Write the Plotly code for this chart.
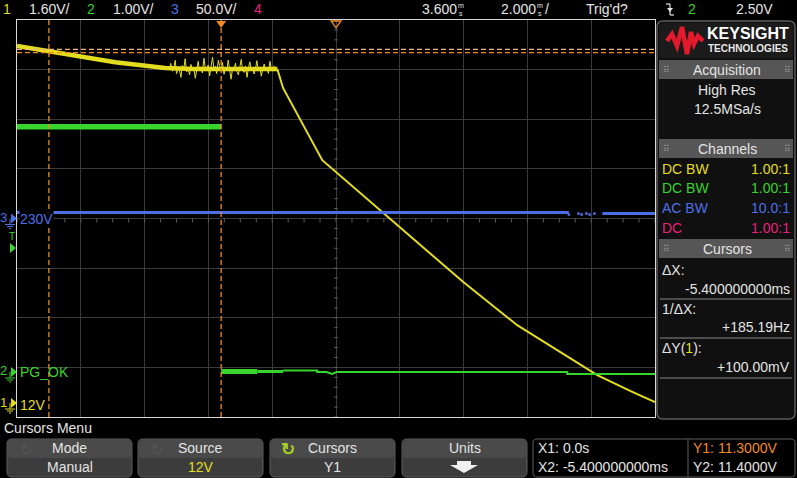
import plotly.graph_objects as go

W, H = 797, 478
FONT = "Liberation Sans, Arial, sans-serif"

# ---------------- data ----------------
T_RANGE = [-6.4, 13.6]          # ms, 2 ms/div, delay 3.6 ms
CH1_RANGE = [-0.45, 12.35]      # 1.60 V/div
CH2_RANGE = [-0.907, 7.093]     # 1.00 V/div
CH3_RANGE = [-200, 200]         # 50.0 V/div

# Channel 1 (12V) slow decline before the drop
CH1_T = [-6.4, -5.42, -4.36, -3.32, -1.76, -0.82, 1.76]
CH1_V = [11.51, 11.35, 11.19, 10.99, 10.80, 10.77, 10.77]
# Channel 1 noisy plateau
NOISE_T = [-1.62, -1.58, -1.53, -1.49, -1.44, -1.40, -1.35, -1.31, -1.26, -1.22, -1.17, -1.13, -1.08, -1.04, -0.99,
           -0.95, -0.90, -0.86, -0.81, -0.77, -0.72, -0.68, -0.63, -0.59, -0.54, -0.50, -0.45, -0.41, -0.36, -0.32,
           -0.27, -0.23, -0.18, -0.14, -0.09, -0.05, 0.00, 0.04, 0.09, 0.13, 0.18, 0.22, 0.27, 0.31, 0.36,
           0.40, 0.45, 0.49, 0.54, 0.58, 0.63, 0.67, 0.72, 0.76, 0.81, 0.85, 0.90, 0.94, 0.99, 1.03,
           1.08, 1.12, 1.17, 1.21, 1.26, 1.30, 1.35, 1.39, 1.44, 1.48, 1.53, 1.57, 1.62, 1.66, 1.71]
NOISE_V = [10.78, 10.95, 10.70, 10.76, 11.05, 10.62, 10.80, 10.74, 10.50, 10.88, 10.76, 11.10, 10.68, 10.79, 10.58,
           10.92, 10.75, 10.81, 10.47, 10.77, 11.02, 10.72, 10.84, 10.64, 11.12, 10.80, 10.70, 10.90, 10.55, 10.83,
           11.15, 10.78, 10.86, 10.62, 11.05, 10.88, 10.74, 10.98, 10.60, 10.80, 10.72, 11.06, 10.66, 10.44, 10.82,
           10.76, 10.96, 10.70, 10.58, 10.80, 11.08, 10.74, 10.66, 10.87, 10.50, 10.78, 11.00, 10.73, 10.82, 10.61,
           10.79, 11.04, 10.70, 10.84, 10.54, 10.77, 10.93, 10.72, 10.80, 10.63, 11.02, 10.76, 10.70, 10.86, 10.78]
# Channel 1 falling part
FALL_T = [1.76, 1.94, 3.17, 5.61, 7.59, 9.28, 10.63, 11.79, 12.82, 13.6]
FALL_V = [10.77, 10.16, 7.83, 5.67, 3.90, 2.51, 1.64, 0.90, 0.39, 0.03]

# Channel 2 (PG_OK)
CH2_PRE_T = [-6.4, 0.0]
CH2_PRE_V = [4.94, 4.94]
CH2_BAND_T = [0.0, 1.13]
CH2_BAND_V = [0.01, 0.01]
CH2_MID_T = [1.13, 1.94]
CH2_MID_V = [0.01, 0.01]
CH2_T = [1.94, 3.01, 3.01, 3.30, 3.48, 3.62, 10.85, 10.85, 13.6]
CH2_V = [0.03, 0.03, 0.0, 0.0, -0.04, 0.0, 0.0, -0.04, -0.04]

# Channel 3 (230V, AC coupled)
CH3_T = [-6.4, 10.9, None, 11.95, 13.6]
CH3_V = [6, 6, None, 5, 5]
CH3_DOT_T = [10.9, 11.2, 11.3, 11.45, 11.55, 11.7]
CH3_DOT_V = [4, 5, 4, 5, 4, 5]

# cursors
X_CURSORS = [0.0, -5.4]
Y1, Y2 = 11.3, 11.4
TRIG_LEVEL = 2.5

YELLOW = "#e3dc1f"
GREEN = "#36d42c"
BLUE = "#4d6fe6"
PINK = "#e8207a"
ORANGE = "#f08a22"
PEACH = "#eeb27a"
TXT = "#e4e4e4"

PX0, PX1, PY0, PY1 = 17, 655, 20, 417   # plot area in pixels


def P(x, y):
    return f"{x / W:.5f},{1 - y / H:.5f}"


def rrect(x0, y0, x1, y1, r):
    return ("M" + P(x0 + r, y0) + " L" + P(x1 - r, y0) + " Q" + P(x1, y0) + " " + P(x1, y0 + r) +
            " L" + P(x1, y1 - r) + " Q" + P(x1, y1) + " " + P(x1 - r, y1) +
            " L" + P(x0 + r, y1) + " Q" + P(x0, y1) + " " + P(x0, y1 - r) +
            " L" + P(x0, y0 + r) + " Q" + P(x0, y0) + " " + P(x0 + r, y0) + " Z")


def poly(pts, close=True):
    s = "M" + " L".join(P(x, y) for x, y in pts)
    return s + (" Z" if close else "")


def ypix(v, rng):
    return PY1 - (v - rng[0]) / (rng[1] - rng[0]) * (PY1 - PY0)


def xpix(t):
    return PX0 + (t - T_RANGE[0]) / (T_RANGE[1] - T_RANGE[0]) * (PX1 - PX0)


shapes = []
ann = []


def txt(s, x, y, color=TXT, size=14, anchor="left", bold=False, bg=None):
    d = dict(text=s, x=x / W, y=1 - y / H, xref="paper", yref="paper", xanchor=anchor,
             yanchor="middle", showarrow=False, borderpad=0,
             font=dict(family=FONT, size=size, color=color, weight=700 if bold else 400))
    if bg:
        d["bgcolor"] = bg
    ann.append(d)


def shp_path(path, fill=None, line=None, width=1, layer="above"):
    shapes.append(dict(type="path", path=path, xref="paper", yref="paper", layer=layer,
                       fillcolor=fill if fill else "rgba(0,0,0,0)",
                       line=dict(color=line if line else "rgba(0,0,0,0)", width=width if line else 0)))


def shp_line(x0, y0, x1, y1, color, width=1, dash=None):
    ln = dict(color=color, width=width)
    if dash:
        ln["dash"] = dash
    shapes.append(dict(type="line", xref="paper", yref="paper", x0=x0 / W, x1=x1 / W,
                       y0=1 - y0 / H, y1=1 - y1 / H, line=ln, layer="above"))


fig = go.Figure()

# center-line minor ticks (div units on primary y)
tx, ty = [], []
t = T_RANGE[0]
while t <= T_RANGE[1] + 1e-9:
    tx += [t, t, None]
    ty += [-0.0, -0.08, None]
    t += 0.5
k = -4.0
while k <= 4.0 + 1e-9:
    tx += [3.6 - 0.06, 3.6 + 0.06, None]
    ty += [k, k, None]
    k += 0.2
fig.add_trace(go.Scatter(x=tx, y=ty, mode="lines", line=dict(color="#5a5a5a", width=1),
                         yaxis="y", hoverinfo="skip"))

# channel 3
fig.add_trace(go.Scatter(x=CH3_T, y=CH3_V, mode="lines", line=dict(color=BLUE, width=3),
                         yaxis="y4", hoverinfo="skip"))
fig.add_trace(go.Scatter(x=CH3_DOT_T, y=CH3_DOT_V, mode="markers",
                         marker=dict(color=BLUE, size=2.5, symbol="square"),
                         yaxis="y4", hoverinfo="skip"))
# channel 2
fig.add_trace(go.Scatter(x=CH2_PRE_T, y=CH2_PRE_V, mode="lines", line=dict(color=GREEN, width=5.5),
                         yaxis="y3", hoverinfo="skip"))
fig.add_trace(go.Scatter(x=CH2_BAND_T, y=CH2_BAND_V, mode="lines", line=dict(color=GREEN, width=5),
                         yaxis="y3", hoverinfo="skip"))
fig.add_trace(go.Scatter(x=CH2_MID_T, y=CH2_MID_V, mode="lines", line=dict(color=GREEN, width=3),
                         yaxis="y3", hoverinfo="skip"))
fig.add_trace(go.Scatter(x=CH2_T, y=CH2_V, mode="lines", line=dict(color=GREEN, width=2),
                         yaxis="y3", hoverinfo="skip"))
# channel 1
fig.add_trace(go.Scatter(x=CH1_T, y=CH1_V, mode="lines", line=dict(color=YELLOW, width=4.5),
                         yaxis="y2", hoverinfo="skip"))
fig.add_trace(go.Scatter(x=NOISE_T, y=NOISE_V, mode="lines", line=dict(color=YELLOW, width=1),
                         yaxis="y2", hoverinfo="skip"))
fig.add_trace(go.Scatter(x=FALL_T, y=FALL_V, mode="lines", line=dict(color=YELLOW, width=2),
                         yaxis="y2", hoverinfo="skip"))

# cursors
for xc in X_CURSORS:
    shapes.append(dict(type="line", xref="x", yref="paper", x0=xc, x1=xc,
                       y0=1 - PY1 / H, y1=1 - PY0 / H, layer="above",
                       line=dict(color=ORANGE, width=1.3, dash="5px,3px")))
for yc, col in [(Y2, PEACH), (Y1, ORANGE)]:
    shapes.append(dict(type="line", xref="paper", yref="y2", x0=PX0 / W, x1=PX1 / W,
                       y0=yc, y1=yc, layer="above",
                       line=dict(color=col, width=1.3, dash="5px,3px")))

# trigger / delay markers at top
xt = xpix(0.0)
shp_path(poly([(xt - 5, 21), (xt + 5, 21), (xt, 28)]), fill=ORANGE)
xd = xpix(3.6)
shp_path(poly([(xd - 5, 21), (xd + 5, 21), (xd, 28)]), line=ORANGE, width=1.3)

# left ground markers
for num, col, g in [("3", BLUE, ypix(0, CH3_RANGE)), ("2", GREEN, ypix(0, CH2_RANGE)),
                    ("1", YELLOW, ypix(0, CH1_RANGE))]:
    txt(num, 4, g - 1, color=col, size=13, anchor="center")
    shp_path(poly([(11, g - 5), (17, g), (11, g + 5)]), fill=col)
    shp_line(10, g, 10, g + 6, col, 1)
    shp_line(5, g + 6, 15, g + 6, col, 1)
    shp_line(7, g + 8, 13, g + 8, col, 1)
    shp_line(9, g + 10, 11, g + 10, col, 1)
gt = ypix(TRIG_LEVEL, CH2_RANGE)
txt("T", 12, gt - 11, color=GREEN, size=10, anchor="center")
shp_path(poly([(10, gt - 5), (16, gt), (10, gt + 5)]), fill=GREEN)

# channel labels
txt("230V", 19, ypix(0, CH3_RANGE), color=BLUE, size=14, bg="#000000")
txt("PG_OK", 19, ypix(0, CH2_RANGE), color=GREEN, size=14)
txt("12V", 19, ypix(0, CH1_RANGE) + 2, color=YELLOW, size=14)

# ---------------- top bar ----------------
txt("1", 7, 9, color=YELLOW, anchor="center")
txt("1.60V/", 28, 9)
txt("2", 91, 9, color=GREEN, anchor="center")
txt("1.00V/", 112, 9)
txt("3", 175, 9, color=BLUE, anchor="center")
txt("50.0V/", 195, 9)
txt("4", 258, 9, color=PINK, anchor="center")
txt("3.600", 421, 9)
txt("m", 461, 6, size=7, anchor="center")
txt("s", 461, 13, size=7, anchor="center")
txt("2.000", 500, 9)
txt("m", 540, 6, size=7, anchor="center")
txt("s", 540, 13, size=7, anchor="center")
txt("/", 544, 9)
txt("Trig'd?", 585, 9)
xi = 670
shp_line(xi - 4, 4, xi, 4, TXT, 1.2)
shp_line(xi, 4, xi, 15, TXT, 1.2)
shp_line(xi, 15, xi + 4, 15, TXT, 1.2)
shp_path(poly([(xi - 3, 8), (xi + 3, 8), (xi, 12)]), fill=TXT)
txt("2", 692, 9, color=GREEN, anchor="center")
txt("2.50V", 735, 9)

# ---------------- right panel ----------------
shp_path(rrect(657, 21, 795, 419, 6), fill="#101010", line="#5c5c5c", width=1.5, layer="below")
shp_path(rrect(659, 23, 793, 58, 4), fill="#1b1b1b", layer="below")
shp_path(poly([(667, 41), (672, 34), (677, 46), (682, 27), (687, 54), (691, 32), (694, 44),
               (698, 36), (703, 41)], close=False), line="#e3192c", width=4.5)
txt("KEYSIGHT", 706, 33, color="#ffffff", size=16, bold=True)
txt("TECHNOLOGIES", 707, 48, color="#e8e8e8", size=10, bold=True)
for label, y0 in [("Acquisition", 60), ("Channels", 139), ("Cursors", 239)]:
    shapes.append(dict(type="rect", xref="paper", yref="paper", x0=659 / W, x1=793 / W,
                       y0=1 - (y0 + 19) / H, y1=1 - y0 / H, fillcolor="#565656",
                       line=dict(width=0), layer="below"))
    txt(label, 727, y0 + 10, anchor="center")
    txt("⠿", 666, y0 + 10, color="#9a9a9a", size=9, anchor="center")
    txt("⠿", 787, y0 + 10, color="#9a9a9a", size=9, anchor="center")
txt("High Res", 727, 90, anchor="center")
txt("12.5MSa/s", 727, 109, anchor="center")
for left, right, col, y in [("DC BW", "1.00:1", YELLOW, 169), ("DC BW", "1.00:1", GREEN, 188),
                            ("AC BW", "10.0:1", BLUE, 208), ("DC", "1.00:1", PINK, 228)]:
    txt(left, 661, y, color=col)
    txt(right, 791, y, color=col, anchor="right")
txt("ΔX:", 661, 270)
txt("-5.400000000ms", 791, 289, anchor="right")
shp_line(660, 299, 792, 299, "#8a8a8a", 1)
txt("1/ΔX:", 661, 309)
txt("+185.19Hz", 791, 327, anchor="right")
shp_line(660, 338, 792, 338, "#8a8a8a", 1)
txt("ΔY(<span style='color:" + YELLOW + "'>1</span>):", 661, 348)
txt("+100.00mV", 791, 367, anchor="right")
shp_line(660, 378, 792, 378, "#8a8a8a", 1)

# ---------------- bottom menu ----------------
txt("Cursors Menu", 3, 428)
buttons = [(7, 132, "Mode", "Manual", TXT), (138, 263, "Source", "12V", YELLOW),
           (270, 395, "Cursors", "Y1", TXT), (402, 527, "Units", "", TXT)]
for x0, x1, top, bot, col in buttons:
    shp_path(rrect(x0, 439, x1, 477, 5), fill="#3c3c3c", line="#5e5e5e", width=1, layer="below")
    shp_path(rrect(x0 + 1, 440, x1 - 1, 458, 4), fill="#4a4a4a", layer="below")
    cx = (x0 + x1) / 2
    txt(top, cx, 448, anchor="center")
    if bot:
        txt(bot, cx, 467, color=col, anchor="center")
txt("↻", 26, 449, color="#555555", size=15, anchor="center")
txt("↻", 157, 449, color="#555555", size=15, anchor="center")
txt("↻", 288, 449, color="#a6d024", size=17, anchor="center", bold=True)
shp_path(poly([(457, 461), (471, 461), (471, 465), (478, 465), (464, 473), (450, 465), (457, 465)]),
         fill="#f0f0f0")
shp_path(rrect(533, 439, 795, 477, 4), fill="#000000", line="#5e5e5e", width=1, layer="below")
shp_line(688, 439, 688, 477, "#5e5e5e", 1)
txt("X1: 0.0s", 537, 448)
txt("X2: -5.400000000ms", 537, 467)
txt("Y1: 11.3000V", 692, 448, color=ORANGE)
txt("Y2: 11.4000V", 692, 467)

dom_y = [1 - PY1 / H, 1 - PY0 / H]
fig.update_layout(
    width=W, height=H, autosize=False,
    margin=dict(l=0, r=0, t=0, b=0),
    paper_bgcolor="#000000", plot_bgcolor="#000000",
    showlegend=False,
    xaxis=dict(domain=[PX0 / W, PX1 / W], range=T_RANGE, tick0=T_RANGE[0], dtick=2,
               showgrid=True, gridcolor="#3b3b3b", gridwidth=1, zeroline=False,
               showticklabels=False, ticks="", showline=True, mirror=True,
               linecolor="#d8d8d8", linewidth=1, fixedrange=True),
    yaxis=dict(domain=dom_y, range=[-4, 4], dtick=1, showgrid=True, gridcolor="#3b3b3b",
               gridwidth=1, zeroline=False, showticklabels=False, ticks="", showline=True,
               mirror=True, linecolor="#d8d8d8", linewidth=1, fixedrange=True),
    yaxis2=dict(overlaying="y", range=CH1_RANGE, visible=False, fixedrange=True),
    yaxis3=dict(overlaying="y", range=CH2_RANGE, visible=False, fixedrange=True),
    yaxis4=dict(overlaying="y", range=CH3_RANGE, visible=False, fixedrange=True),
    shapes=shapes,
    annotations=ann,
)

fig.write_html("out.html", config={"displayModeBar": False},
               post_script="document.body.style.margin='0px';document.body.style.background='#000';")
